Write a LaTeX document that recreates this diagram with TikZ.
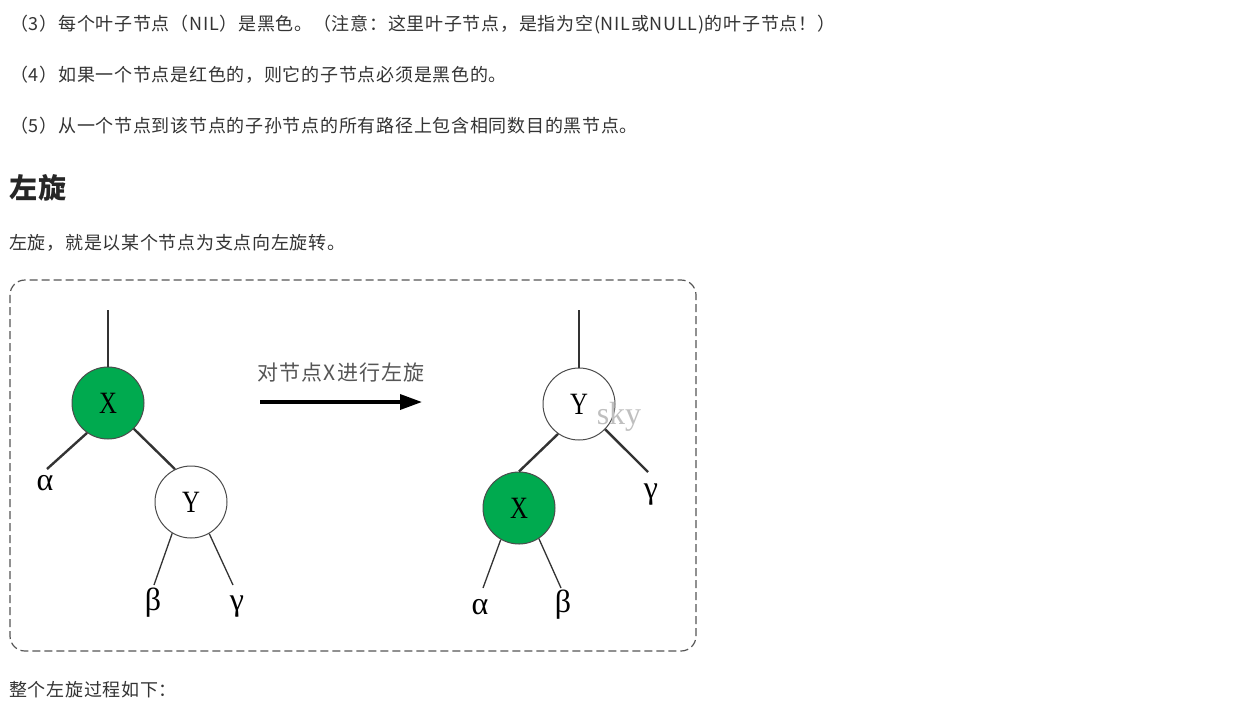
\documentclass[tikz,border=0pt]{standalone}
\usepackage{fontspec}
\setmainfont{Noto Sans CJK SC}[LetterSpace=4]
\newfontfamily\grk{Liberation Serif}
\newfontfamily\cjklbl{Noto Sans CJK SC}[LetterSpace=6]
\usetikzlibrary{arrows.meta}
\definecolor{txt}{HTML}{333333}
\definecolor{lnc}{HTML}{333333}
\definecolor{xgreen}{HTML}{00AA4F}
\definecolor{lbl}{HTML}{555555}
\tikzstyle{para}=[anchor=west,inner sep=0pt,text=txt,font=\fontsize{18}{20}\selectfont]
\tikzstyle{nd}=[circle,draw=black!70,line width=1pt,minimum size=72pt,inner sep=0pt,font=\grk\fontsize{31}{32}\selectfont]
\tikzstyle{lf}=[inner sep=0pt,font=\grk\fontsize{32}{34}\selectfont]
\tikzstyle{thk}=[line width=2.4pt,draw=lnc]
\tikzstyle{thn}=[line width=1.3pt,draw=lnc]
\newcommand{\nm}[1]{\scalebox{0.8}[1]{#1}}

\begin{document}
\begin{tikzpicture}[x=1pt,y=-1pt]
\useasboundingbox[fill=white] (0,0) rectangle (1241,710);
\node[para] (rule3) at (10,25) {（3）每个叶子节点（NIL）是黑色。（注意：这里叶子节点，是指为空(NIL或NULL)的叶子节点！）};
\node[para] (rule4) at (10,75) {（4）如果一个节点是红色的，则它的子节点必须是黑色的。};
\node[para] (rule5) at (10,126) {（5）从一个节点到该节点的子孙节点的所有路径上包含相同数目的黑节点。};
\node[para,font=\bfseries\fontsize{28}{30}\selectfont,text=black!85] (title) at (9,188) {左旋};
\node[para] (intro) at (9,243) {左旋，就是以某个节点为支点向左旋转。};
\node[para] (after) at (9,690) {整个左旋过程如下：};
\draw[lbl,line width=1.2pt,dash pattern=on 8pt off 4pt,rounded corners=15pt] (10,280) rectangle (696,651);
\node[nd,fill=xgreen] (x0) at (108,403) {\nm{X}};
\node[nd,fill=white] (y0) at (191,502) {\nm{Y}};
\coordinate (top0) at (108,310);
\coordinate (a0e) at (47,469);
\coordinate (b0e) at (154,585);
\coordinate (c0e) at (233,585);
\node[lf] (a0) at (45,483) {α};
\node[lf] (b0) at (153,603) {β};
\node[lf] (c0) at (237,607) {γ};
\draw[thk] (top0) -- (x0);
\draw[thk] (x0.235) -- (a0e);
\draw[thk] (x0.-45) -- (y0.116.6);
\draw[thn] (y0.239) -- (b0e);
\draw[thn] (y0.-60) -- (c0e);
\coordinate (arrs) at (260,402);
\coordinate (arre) at (422,402);
\node[text=lbl,font=\cjklbl\fontsize{21}{24}\selectfont] (op) at (341,373) {对节点X进行左旋};
\draw[line width=3.5pt,-{Triangle[length=22pt,width=15pt]}] (arrs) -- (arre);
\node[nd,fill=white] (y1) at (579,404) {\nm{Y}};
\node[nd,fill=xgreen] (x1) at (519,508) {\nm{X}};
\coordinate (top1) at (579,310);
\coordinate (a1e) at (483,588);
\coordinate (b1e) at (561,588);
\coordinate (c1e) at (648,472);
\node[lf] (a1) at (480,607) {α};
\node[lf] (b1) at (563,605) {β};
\node[lf] (c1) at (651,495) {γ};
\node[text=black!25,font=\grk\fontsize{32}{34}\selectfont] (mark) at (619,417) {sky};
\draw[thk] (top1) -- (y1);
\draw[thk] (y1.235) -- (x1.north);
\draw[thk] (y1.-44) -- (c1e);
\draw[thn] (x1.240) -- (a1e);
\draw[thn] (x1.-57) -- (b1e);
\end{tikzpicture}
\end{document}
